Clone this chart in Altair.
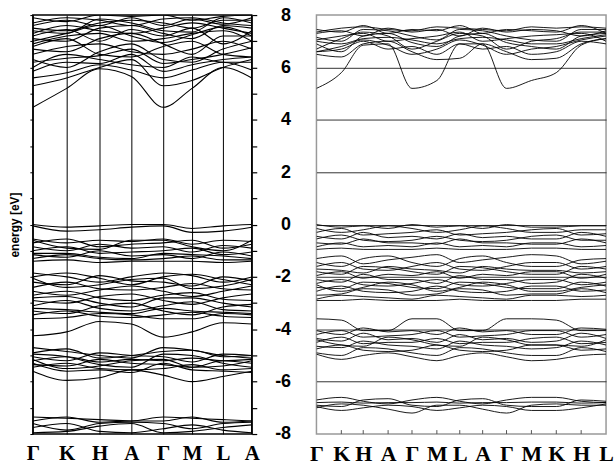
import json
import altair as alt
import pandas as pd

# ---------------- k-paths ----------------
kL = [0, 34, 67, 99, 131, 160, 191, 220]
labelsL = ["Γ", "K", "H", "A", "Γ", "M", "L", "A"]

kR = [0, 25, 47, 72, 96, 121, 144, 167, 191, 216, 241, 266, 291]
labelsR = ["Γ", "K", "H", "A", "Γ", "M", "L", "A", "Γ", "M", "K", "H", "L"]

# ---------------- left panel bands (values at Γ K H A Γ M L A) ----------------
left_conduction = [
    [4.48, 5.2, 5.95, 5.65, 4.48, 5.2, 6.0, 5.6],
    [5.3, 5.6, 6.0, 6.3, 5.3, 5.5, 6.0, 6.3],
    [5.6, 5.8, 6.1, 5.9, 5.6, 5.9, 6.2, 5.9],
    [5.85, 6.2, 6.15, 6.5, 5.85, 6.1, 6.3, 6.4],
    [6.0, 6.5, 6.3, 6.1, 6.0, 6.4, 6.2, 6.2],
    [6.2, 6.35, 6.45, 6.7, 6.15, 6.3, 6.5, 6.75],
    [6.3, 6.0, 6.6, 6.9, 6.3, 6.2, 6.7, 7.0],
    [6.5, 6.8, 6.9, 6.6, 6.5, 6.7, 7.0, 6.7],
    [6.8, 7.1, 6.5, 6.4, 6.8, 7.0, 6.5, 6.4],
    [6.7, 6.6, 7.1, 7.3, 6.9, 6.5, 7.2, 7.2],
    [6.9, 7.2, 7.3, 7.0, 7.1, 7.3, 7.4, 7.0],
    [7.0, 7.3, 7.6, 7.2, 6.95, 7.25, 7.55, 7.2],
    [7.1, 7.0, 7.5, 7.6, 7.3, 7.1, 7.6, 7.5],
    [7.2, 7.45, 7.0, 7.45, 7.2, 7.5, 6.9, 7.4],
    [7.3, 7.6, 7.4, 7.3, 7.5, 7.7, 7.5, 7.3],
    [7.4, 7.3, 7.85, 7.7, 7.4, 7.35, 7.9, 7.7],
    [7.5, 7.4, 7.7, 7.8, 7.7, 7.5, 7.8, 7.8],
    [7.6, 7.8, 7.6, 7.9, 7.6, 7.85, 7.65, 7.9],
    [7.7, 7.9, 7.8, 7.6, 7.85, 7.9, 7.7, 7.6],
    [7.9, 7.75, 8.0, 7.95, 8.0, 7.8, 7.95, 8.0],
]
left_valence_top = [
    [0.0, -0.1, -0.05, 0.0, 0.0, -0.15, -0.05, 0.0],
    [-0.05, -0.25, -0.2, -0.1, -0.05, -0.3, -0.25, -0.1],
    [-0.55, -0.7, -0.6, -0.65, -0.55, -0.75, -0.6, -0.65],
    [-0.6, -0.9, -0.95, -0.6, -0.6, -0.85, -1.0, -0.6],
    [-0.7, -0.55, -0.85, -0.75, -0.7, -0.6, -0.9, -0.75],
    [-0.85, -1.0, -0.75, -0.9, -0.85, -1.05, -0.8, -0.9],
    [-1.0, -0.85, -1.1, -1.05, -1.0, -0.9, -1.15, -1.05],
    [-1.1, -1.1, -1.25, -1.3, -1.1, -1.15, -1.2, -1.3],
    [-1.15, -1.25, -1.0, -1.2, -1.15, -1.3, -1.05, -1.2],
    [-1.3, -1.15, -1.3, -1.35, -1.3, -1.2, -1.35, -1.35],
    [-1.4, -1.35, -1.45, -1.4, -1.4, -1.4, -1.45, -1.4],
]
left_valence_mid = [
    [-1.85, -2.0, -2.2, -2.0, -1.85, -1.95, -2.2, -2.0],
    [-2.0, -1.85, -2.05, -2.3, -2.0, -1.9, -2.1, -2.3],
    [-2.05, -2.4, -2.3, -2.1, -2.05, -2.45, -2.35, -2.1],
    [-2.2, -2.3, -1.95, -2.15, -2.2, -2.35, -2.0, -2.15],
    [-2.4, -2.2, -2.45, -2.5, -2.4, -2.25, -2.45, -2.5],
    [-2.55, -2.7, -2.5, -2.35, -2.55, -2.75, -2.55, -2.35],
    [-2.7, -2.55, -2.8, -2.9, -2.7, -2.6, -2.85, -2.9],
    [-2.8, -2.75, -3.0, -3.15, -2.8, -2.8, -3.0, -3.15],
    [-2.9, -3.0, -2.75, -2.65, -2.9, -3.05, -2.8, -2.65],
    [-3.1, -2.9, -3.2, -3.3, -3.1, -2.95, -3.25, -3.3],
    [-3.2, -3.25, -3.35, -3.4, -3.2, -3.3, -3.35, -3.4],
    [-3.3, -3.4, -3.1, -3.0, -3.3, -3.45, -3.15, -3.05],
    [-3.45, -3.3, -3.5, -3.55, -3.45, -3.35, -3.5, -3.55],
    [-3.6, -3.55, -3.4, -3.45, -3.6, -3.6, -3.4, -3.45],
    [-4.25, -4.1, -3.7, -3.8, -4.3, -4.1, -3.75, -3.8],
]
left_valence_deep = [
    [-4.7, -4.85, -5.0, -5.1, -4.7, -4.8, -5.0, -5.1],
    [-4.9, -4.75, -5.1, -5.0, -4.85, -4.8, -5.05, -5.0],
    [-4.95, -5.05, -5.35, -5.45, -4.95, -5.0, -5.3, -5.45],
    [-5.05, -5.2, -4.9, -5.0, -5.05, -5.25, -4.95, -5.0],
    [-5.15, -5.5, -5.4, -5.2, -5.15, -5.45, -5.4, -5.2],
    [-5.2, -5.05, -5.25, -5.15, -5.2, -5.1, -5.2, -5.15],
    [-5.35, -5.4, -5.15, -5.3, -5.35, -5.45, -5.2, -5.3],
    [-5.45, -5.3, -5.5, -5.55, -5.5, -5.35, -5.55, -5.5],
    [-5.3, -5.6, -5.55, -5.65, -5.3, -5.55, -5.6, -5.65],
    [-5.6, -5.95, -5.85, -5.55, -5.75, -6.0, -5.8, -5.6],
]
left_valence_bottom = [
    [-7.35, -7.4, -7.45, -7.5, -7.35, -7.4, -7.45, -7.5],
    [-7.5, -7.35, -7.55, -7.5, -7.5, -7.35, -7.55, -7.5],
    [-7.6, -7.85, -7.6, -7.55, -7.6, -7.8, -7.6, -7.55],
    [-7.75, -7.6, -7.9, -7.95, -7.8, -7.65, -7.85, -7.95],
    [-7.95, -7.9, -7.7, -7.6, -7.95, -7.9, -7.75, -7.65],
]

# ---------------- right panel bands (values at Γ K H A Γ M L A Γ M K H L) ----------------
right_conduction = [
    [5.2, 5.8, 6.85, 6.9, 5.2, 5.5, 6.9, 6.9, 5.2, 5.5, 5.8, 6.85, 7.1],
    [6.5, 6.4, 6.9, 7.0, 6.6, 6.3, 6.35, 6.9, 6.6, 6.3, 6.35, 6.9, 7.1],
    [6.6, 6.7, 7.0, 6.7, 6.8, 6.5, 6.9, 6.7, 6.8, 6.5, 6.6, 7.0, 6.9],
    [6.6, 6.8, 7.05, 6.85, 6.5, 6.7, 7.05, 6.85, 6.5, 6.7, 6.8, 7.05, 7.2],
    [6.7, 7.1, 7.35, 7.2, 6.7, 7.0, 7.3, 7.2, 6.7, 7.0, 7.1, 7.35, 7.35],
    [6.9, 6.6, 7.2, 7.3, 6.95, 6.8, 7.2, 7.3, 6.95, 6.8, 6.7, 7.2, 7.3],
    [7.0, 6.9, 7.1, 7.15, 7.05, 6.9, 7.1, 7.15, 7.05, 6.9, 6.9, 7.1, 7.25],
    [7.05, 7.2, 7.3, 7.0, 7.1, 7.2, 7.35, 7.0, 7.1, 7.2, 7.25, 7.3, 7.0],
    [7.15, 7.0, 7.45, 7.4, 7.2, 7.05, 7.45, 7.4, 7.2, 7.05, 7.0, 7.45, 7.45],
    [7.3, 7.4, 7.2, 7.5, 7.35, 7.45, 7.2, 7.5, 7.35, 7.45, 7.4, 7.2, 7.4],
    [7.35, 7.5, 7.55, 7.45, 7.4, 7.55, 7.5, 7.45, 7.4, 7.55, 7.5, 7.55, 7.5],
    [7.45, 7.35, 7.6, 7.3, 7.45, 7.4, 7.6, 7.3, 7.45, 7.4, 7.35, 7.6, 7.3],
]
right_valence_top = [
    [0.0, -0.1, -0.05, -0.15, 0.0, -0.1, -0.05, -0.15, 0.0, -0.1, -0.1, -0.05, -0.05],
    [-0.15, -0.3, -0.2, -0.05, -0.15, -0.3, -0.2, -0.05, -0.15, -0.3, -0.3, -0.2, -0.2],
    [-0.3, -0.15, -0.4, -0.35, -0.3, -0.2, -0.4, -0.35, -0.3, -0.2, -0.15, -0.4, -0.35],
    [-0.45, -0.55, -0.3, -0.5, -0.45, -0.55, -0.35, -0.5, -0.45, -0.55, -0.55, -0.3, -0.45],
    [-0.55, -0.4, -0.6, -0.65, -0.6, -0.45, -0.6, -0.65, -0.6, -0.45, -0.4, -0.6, -0.6],
    [-0.7, -0.75, -0.55, -0.7, -0.7, -0.75, -0.55, -0.7, -0.7, -0.75, -0.75, -0.55, -0.7],
    [-0.85, -0.7, -0.85, -0.8, -0.85, -0.7, -0.85, -0.8, -0.85, -0.7, -0.7, -0.85, -0.8],
    [-0.95, -0.9, -0.95, -0.95, -0.95, -0.9, -0.95, -0.95, -0.95, -0.9, -0.9, -0.95, -0.95],
]
right_valence_mid = [
    [-1.3, -1.2, -1.5, -1.35, -1.25, -1.15, -1.45, -1.35, -1.25, -1.15, -1.2, -1.5, -1.4],
    [-1.45, -1.6, -1.3, -1.2, -1.45, -1.6, -1.3, -1.2, -1.45, -1.6, -1.6, -1.35, -1.3],
    [-1.6, -1.45, -1.7, -1.75, -1.6, -1.45, -1.7, -1.75, -1.6, -1.45, -1.45, -1.7, -1.6],
    [-1.7, -1.75, -1.85, -1.6, -1.7, -1.75, -1.85, -1.6, -1.7, -1.75, -1.75, -1.85, -1.8],
    [-1.8, -1.9, -1.6, -1.65, -1.8, -1.9, -1.6, -1.65, -1.8, -1.9, -1.9, -1.6, -1.7],
    [-1.95, -1.8, -2.05, -1.9, -1.95, -1.8, -2.05, -1.9, -1.95, -1.8, -1.8, -2.05, -1.9],
    [-2.1, -2.2, -1.9, -2.1, -2.1, -2.25, -1.95, -2.1, -2.1, -2.25, -2.2, -1.9, -2.05],
    [-2.25, -2.1, -2.3, -2.35, -2.25, -2.1, -2.3, -2.35, -2.25, -2.1, -2.1, -2.3, -2.2],
    [-2.3, -2.55, -2.4, -2.2, -2.3, -2.55, -2.4, -2.2, -2.3, -2.55, -2.55, -2.4, -2.3],
    [-2.4, -2.45, -2.2, -2.25, -2.4, -2.45, -2.2, -2.25, -2.4, -2.45, -2.45, -2.2, -2.35],
    [-2.55, -2.35, -2.55, -2.6, -2.55, -2.35, -2.55, -2.6, -2.55, -2.35, -2.35, -2.55, -2.5],
    [-2.7, -2.65, -2.45, -2.5, -2.7, -2.65, -2.45, -2.5, -2.7, -2.65, -2.65, -2.45, -2.6],
    [-2.85, -2.7, -2.75, -2.8, -2.85, -2.7, -2.75, -2.8, -2.85, -2.7, -2.7, -2.75, -2.7],
    [-2.9, -2.9, -2.85, -2.9, -2.9, -2.9, -2.85, -2.9, -2.9, -2.9, -2.9, -2.85, -2.85],
]
right_valence_deep = [
    [-3.6, -3.65, -4.05, -4.05, -3.6, -3.6, -4.05, -4.05, -3.6, -3.6, -3.65, -4.05, -4.05],
    [-4.05, -4.2, -3.95, -4.1, -4.05, -4.2, -3.95, -4.1, -4.05, -4.2, -4.2, -3.95, -4.0],
    [-4.2, -4.05, -4.3, -4.25, -4.2, -4.05, -4.3, -4.25, -4.2, -4.05, -4.05, -4.3, -4.2],
    [-4.35, -4.45, -4.15, -4.4, -4.35, -4.5, -4.2, -4.4, -4.35, -4.5, -4.45, -4.15, -4.35],
    [-4.4, -4.6, -4.65, -4.3, -4.4, -4.6, -4.65, -4.3, -4.4, -4.6, -4.6, -4.65, -4.4],
    [-4.5, -4.3, -4.55, -4.5, -4.5, -4.35, -4.55, -4.5, -4.5, -4.35, -4.3, -4.55, -4.5],
    [-4.65, -4.7, -4.45, -4.6, -4.65, -4.75, -4.45, -4.6, -4.65, -4.75, -4.7, -4.45, -4.6],
    [-4.75, -4.6, -4.8, -4.85, -4.8, -4.6, -4.8, -4.85, -4.8, -4.6, -4.6, -4.8, -4.75],
    [-4.9, -5.0, -4.7, -4.75, -4.9, -5.0, -4.7, -4.75, -4.9, -5.0, -5.0, -4.7, -4.85],
    [-4.95, -5.15, -5.0, -4.9, -5.05, -5.2, -5.0, -4.9, -5.05, -5.2, -5.15, -5.0, -4.95],
]
right_valence_bottom = [
    [-6.8, -6.78, -6.82, -6.8, -6.8, -6.78, -6.82, -6.8, -6.8, -6.78, -6.78, -6.82, -6.8],
    [-6.7, -6.6, -6.75, -6.85, -6.7, -6.6, -6.75, -6.85, -6.7, -6.6, -6.6, -6.75, -6.8],
    [-6.9, -6.95, -6.7, -6.65, -6.9, -6.95, -6.7, -6.65, -6.9, -6.95, -6.95, -6.7, -6.75],
    [-7.0, -6.85, -6.9, -7.05, -7.2, -6.9, -6.9, -7.05, -7.2, -6.9, -6.85, -6.9, -6.9],
    [-6.95, -7.1, -7.0, -6.9, -6.95, -7.1, -7.0, -6.9, -6.95, -7.1, -7.1, -7.0, -6.85],
]

energy_ticks = list(range(-8, 9))
grid_levels = [-6, -4, -2, 0, 2, 4, 6]


def to_frame(k, groups, prefix):
    rows = []
    b = 0
    for g in groups:
        for band in g:
            for kk, e in zip(k, band):
                rows.append({"band": f"{prefix}{b}", "k": kk, "E": e})
            b += 1
    return pd.DataFrame(rows)


dfL = to_frame(kL, [left_conduction, left_valence_top, left_valence_mid,
                    left_valence_deep, left_valence_bottom], "L")
dfR = to_frame(kR, [right_conduction, right_valence_top, right_valence_mid,
                    right_valence_deep, right_valence_bottom], "R")


def label_expr(k, labels):
    return f"{json.dumps(labels, ensure_ascii=False)}[indexof({json.dumps(k)}, datum.value)]"


yscale = alt.Scale(domain=[-8, 8], nice=False, zero=False)
H = 421

# ---------- left panel ----------
xL = alt.X("k:Q", scale=alt.Scale(domain=[kL[0], kL[-1]], nice=False, zero=False),
           axis=alt.Axis(values=kL, labelExpr=label_expr(kL, labelsL),
                         labelFont="Liberation Serif", labelFontWeight="bold",
                         labelFontSize=21, labelColor="black", labelPadding=9,
                         labelFlush=False, labelOverlap=False, ticks=False,
                         domain=False, grid=True, gridColor="black", gridWidth=1,
                         gridOpacity=1, title=None))

left_lines = alt.Chart(dfL).mark_line(color="black", strokeWidth=1.1, clip=True,
                                      interpolate="monotone").encode(
    x=xL,
    y=alt.Y("E:Q", scale=yscale,
            axis=alt.Axis(orient="right", values=energy_ticks,
                          labelExpr="datum.value % 2 == 0 ? '' + datum.value : ''",
                          labelFont="Liberation Sans", labelFontWeight="bold",
                          labelFontSize=18, labelColor="black", labelAlign="right",
                          labelBaseline="middle", labelPadding=34, tickSize=5,
                          tickColor="black", tickWidth=1.2, domain=False,
                          grid=False, title=None)),
    detail="band:N",
)

left_axis_layer = alt.Chart(dfL).mark_point(opacity=0, size=1).encode(
    x=xL,
    y=alt.Y("E:Q", scale=yscale,
            axis=alt.Axis(orient="left", values=energy_ticks, labels=False,
                          tickSize=3, tickColor="black", domain=False, grid=False,
                          title="energy [eV]", titleFont="Liberation Sans",
                          titleFontWeight="bold", titleFontSize=12,
                          titleColor="black", titlePadding=8)),
)

left = alt.layer(left_lines, left_axis_layer).resolve_axis(y="independent").properties(
    width=kL[-1], height=H,
    view=alt.ViewBackground(stroke="black", strokeWidth=1.5),
)

# ---------- right panel ----------
xR = alt.X("k:Q", scale=alt.Scale(domain=[kR[0], kR[-1]], nice=False, zero=False),
           axis=alt.Axis(values=kR, labelExpr=label_expr(kR, labelsR),
                         labelFont="Liberation Serif", labelFontWeight="bold",
                         labelFontSize=22, labelColor="black", labelPadding=10,
                         labelFlush=False, labelOverlap=False, ticks=False,
                         domain=False, grid=False, title=None))

right_lines = alt.Chart(dfR).mark_line(color="black", strokeWidth=0.9, clip=True,
                                       interpolate="monotone").encode(
    x=xR,
    y=alt.Y("E:Q", scale=yscale,
            axis=alt.Axis(values=grid_levels, labels=False, ticks=False,
                          domain=False, grid=True, gridColor="#333333",
                          gridWidth=1, gridOpacity=1, title=None)),
    detail="band:N",
)

tick_df = pd.DataFrame({"k": kR[1:-1]})
right_ticks = alt.Chart(tick_df).mark_rule(color="#555555", strokeWidth=1).encode(
    x=xR,
    y=alt.datum(-8),
    y2=alt.datum(-7.85),
)

right = alt.layer(right_lines, right_ticks).properties(
    width=kR[-1], height=H,
    view=alt.ViewBackground(stroke="#999999", strokeWidth=1.5),
)

chart = alt.hconcat(left, right, spacing=17).properties(
    padding={"left": 7, "top": 4, "right": 0, "bottom": 0},
    background="white",
).configure_view(stroke=None)

chart.save("out.html", embed_options={"renderer": "svg", "actions": False})
